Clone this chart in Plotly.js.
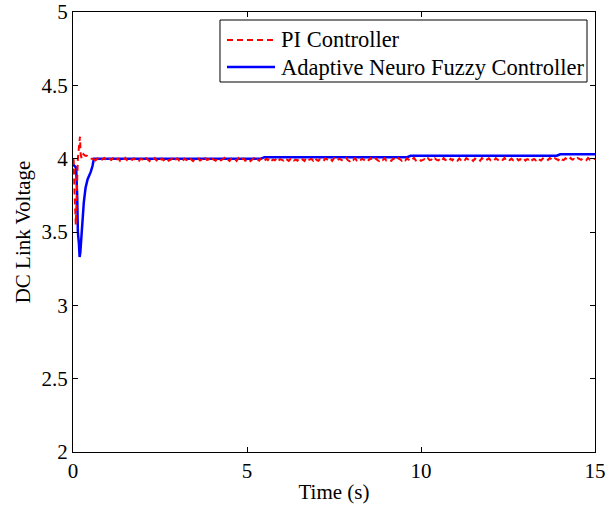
<!DOCTYPE html>
<html>
<head>
<meta charset="utf-8">
<script src="https://cdn.plot.ly/plotly-3.0.1.min.js"></script>
<style>html,body{margin:0;padding:0;background:#fff;}#chart{width:608px;height:510px;}</style>
</head>
<body>
<div id="chart"></div>
<script>
// Adaptive Neuro Fuzzy Controller (blue)
var anfisTime = [0, 0.05, 0.09, 0.12, 0.14, 0.17, 0.19, 0.21, 0.24, 0.27, 0.31, 0.36, 0.42, 0.51, 0.56, 0.6, 0.8, 1.5, 3, 5.4, 5.5, 9.6, 9.7, 13.9, 14.0, 15];
var anfisVolt = [3.96, 3.95, 3.94, 3.75, 3.5, 3.42, 3.33, 3.36, 3.48, 3.58, 3.7, 3.8, 3.86, 3.91, 3.95, 4.0, 4.0, 4.0, 4.0, 4.0, 4.01, 4.01, 4.02, 4.02, 4.03, 4.03];

// PI Controller (red) - start-up transient
var piStartTime = [0, 0.02, 0.04, 0.06, 0.08, 0.1, 0.12, 0.14, 0.16, 0.18, 0.2, 0.22, 0.25, 0.3, 0.35, 0.4, 0.45, 0.5, 0.55, 0.6];
var piStartVolt = [4.0, 3.99, 3.8, 3.6, 3.55, 3.7, 3.9, 4.0, 4.05, 4.1, 4.15, 4.03, 4.0, 4.03, 4.02, 4.02, 4.01, 4.0, 4.0, 3.995];

// PI Controller (red) - steady state, sampled every 0.05 s from 0.6 s to 15 s
var piSteadyStart = 0.6;
var piSteadyStep = 0.05;
var piSteadyVolt = [
3.995,3.988,4.002,3.990,3.984,3.998,4.004,3.992,3.986,3.999,
3.991,4.003,3.987,3.994,4.001,3.985,3.996,3.990,4.005,3.989,
3.983,3.997,3.992,4.002,3.988,3.994,3.986,4.000,3.993,3.987,
4.003,3.990,3.984,3.998,3.992,4.004,3.988,3.995,3.985,4.001,
3.989,3.996,4.003,3.986,3.993,3.999,3.984,3.991,4.002,3.988,
3.994,3.985,4.000,3.992,3.987,4.004,3.990,3.983,3.997,3.993,
4.001,3.988,3.994,3.986,4.003,3.991,3.997,3.984,3.999,3.990,
3.986,4.002,3.993,3.988,3.996,4.005,3.987,3.992,3.984,4.000,
3.991,3.997,3.985,4.003,3.989,3.994,4.001,3.986,3.993,3.998,
3.984,3.992,4.004,3.988,3.995,3.987,4.000,3.993,3.985,3.999,
3.990,4.003,3.986,3.994,3.989,4.001,3.984,3.997,3.992,3.987,
4.002,3.991,3.985,3.998,4.004,3.988,3.993,3.986,4.000,3.990,
3.995,3.984,4.003,3.989,3.992,3.999,3.987,4.005,3.991,3.986,
3.997,3.990,3.984,4.002,3.994,3.988,3.999,3.985,4.003,3.992,
3.987,4.000,3.993,3.986,3.996,4.004,3.989,3.983,3.998,3.991,
4.003,3.988,3.995,3.985,4.001,3.992,3.987,3.999,3.990,4.004,
3.986,3.993,4.002,3.989,3.984,3.997,3.991,4.003,3.988,3.995,
3.990,3.985,4.001,3.994,3.987,4.004,3.992,3.986,3.998,3.989,
4.002,3.991,3.984,3.996,4.005,3.988,3.993,3.999,3.985,3.992,
3.997,3.987,4.003,3.990,3.994,3.985,4.001,3.992,3.988,3.998,
3.986,4.004,3.991,3.995,3.984,3.999,3.989,4.002,3.993,3.987,
4.001,3.990,3.996,3.986,4.003,3.992,3.988,3.997,3.985,4.000,
3.992,3.999,3.987,4.004,3.990,3.985,3.996,4.002,3.989,3.994,
3.988,4.003,3.993,3.986,3.998,3.991,4.005,3.987,3.995,3.990,
4.000,3.989,3.994,4.004,3.988,3.996,3.991,4.002,3.987,3.997,
3.993,4.005,3.990,3.998,3.989,4.003,3.994,3.988,4.001,3.992,
3.999,3.991,4.004,3.993,3.988,4.002,3.995,3.990,4.006,3.994,
3.990,4.003,3.996,3.989,4.005,3.993,3.998,3.991,4.004,3.995,
3.992,4.002,3.997,3.990,4.005,3.994,3.999,3.993,4.001
];

var seriesNames = ['PI Controller', 'Adaptive Neuro Fuzzy Controller'];
var seriesColors = ['#ff0000', '#0000ff'];
var xTicks = [0, 5, 10, 15];
var yTicks = [2, 2.5, 3, 3.5, 4, 4.5, 5];

var FAM = 'Liberation Serif';
function f(size) { return {family: FAM, size: size, color: '#000'}; }

var traces = [
  {x: anfisTime, y: anfisVolt, type: 'scatter', mode: 'lines', name: seriesNames[1],
   showlegend: false,
   line: {color: seriesColors[1], width: 2.5}},
  {x: piStartTime, y: piStartVolt, type: 'scatter', mode: 'lines', name: seriesNames[0],
   showlegend: false,
   line: {color: seriesColors[0], width: 2, dash: '6px,4px'}},
  {x0: piSteadyStart, dx: piSteadyStep, y: piSteadyVolt, type: 'scatter', mode: 'lines', name: seriesNames[0],
   showlegend: false,
   line: {color: seriesColors[0], width: 2, dash: '6px,4px'}}
];

// Legend box drawn in paper coordinates (MATLAB style: tight box, 27px rows)
var lgBox = {x0: 0.2816, x1: 0.9847, y0: 0.8409, y1: 0.9818};
var lgRows = [0.9364, 0.8750];
var lgSample = [0.295, 0.387];
var lgTextX = 0.3946;

var shapes = [
  {type: 'rect', xref: 'paper', yref: 'paper', x0: lgBox.x0, x1: lgBox.x1, y0: lgBox.y0, y1: lgBox.y1,
   line: {color: '#000', width: 1}, fillcolor: '#fff', layer: 'above'},
  {type: 'line', xref: 'paper', yref: 'paper', x0: lgSample[0], x1: lgSample[1], y0: lgRows[0], y1: lgRows[0],
   line: {color: seriesColors[0], width: 2, dash: '6px,4px'}, layer: 'above'},
  {type: 'line', xref: 'paper', yref: 'paper', x0: lgSample[0], x1: lgSample[1], y0: lgRows[1], y1: lgRows[1],
   line: {color: seriesColors[1], width: 2.5}, layer: 'above'}
];
var annotations = seriesNames.map(function (n, i) {
  return {text: n, xref: 'paper', yref: 'paper', x: lgTextX, y: lgRows[i],
          xanchor: 'left', yanchor: 'middle', showarrow: false, font: f(22.5)};
});

var layout = {
  width: 608, height: 510,
  margin: {l: 73, r: 13, t: 12, b: 58},
  paper_bgcolor: '#fff', plot_bgcolor: '#fff',
  font: f(21),
  showlegend: false,
  shapes: shapes,
  annotations: annotations,
  xaxis: {range: [0, 15], tickvals: xTicks, ticktext: xTicks.map(String),
          showgrid: false, zeroline: false, showline: true, linecolor: '#000', linewidth: 1,
          mirror: 'ticks', ticks: 'inside', ticklen: 5, tickcolor: '#000',
          tickfont: f(21),
          title: {text: 'Time (s)', font: f(21), standoff: 2}},
  yaxis: {range: [2, 5], tickvals: yTicks, ticktext: yTicks.map(String),
          showgrid: false, zeroline: false, showline: true, linecolor: '#000', linewidth: 1,
          mirror: 'ticks', ticks: 'inside', ticklen: 5, tickcolor: '#000',
          tickfont: f(21),
          title: {text: 'DC Link Voltage', font: f(21), standoff: 5}}
};

Plotly.newPlot('chart', traces, layout, {displayModeBar: false, staticPlot: true});
</script>
</body>
</html>
